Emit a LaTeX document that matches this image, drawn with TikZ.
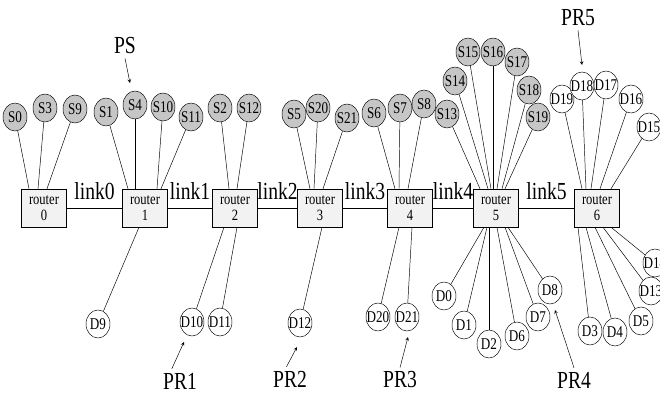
\documentclass[tikz,border=0pt]{standalone}
\usepackage{fontspec}
\setmainfont{Liberation Serif}[FakeStretch=0.8]
\usetikzlibrary{shapes.geometric,calc}

\tikzset{
  router/.style={draw, fill=gray!10, minimum width=1.35cm, minimum height=1.14cm,
    inner sep=0pt, align=center, font=\fontsize{13.4}{13.7}\selectfont},
  src/.style={ellipse, draw, fill=gray!45, minimum width=0.72cm, minimum height=0.84cm,
    inner sep=0pt, font=\fontsize{14}{14}\selectfont},
  dst/.style={src, fill=white},
  lbl/.style={font=\fontsize{20.9}{24}\selectfont}
}

\begin{document}
\begin{tikzpicture}[x=0.03cm, y=-0.03cm, >=stealth]
    \useasboundingbox (0,0) rectangle (660,394);

    % Routers
    \foreach \i/\x in {0/44,1/145,2/235,3/320,4/410,5/496,6/597}
      \node[router] (r\i) at (\x,208) {router\\\i};

    % Links
    \foreach \i/\j in {0/1,1/2,2/3,3/4,4/5,5/6}
      \draw (r\i) -- (r\j) node[lbl, midway, anchor=base, yshift=7.3pt]{link\i};

    % Sources
    \foreach \n/\x/\y/\r/\dx in {0/15/117/0/-15, 3/45/108/0/-6, 9/75/109/0/3,
        1/106/112/1/-17, 4/135/105/1/-10, 10/163/107/1/12, 11/191/117/1/16,
        2/220/108/2/-6, 12/249/108/2/2,
        5/294/114/3/-10, 20/318/108/3/-6, 21/347/118/3/3,
        6/374/113/4/-15, 7/400/108/4/-11, 8/424/104/4/-2,
        13/447/114/5/-16, 14/455/81/5/-8, 15/468/52/5/-5, 16/493/52/5/-3,
        17/517/62/5/1, 18/529/90/5/6, 19/538/117/5/9} {
      \node[src] (s\n) at (\x,\y) {\makebox[0pt]{S\n}};
      \draw (s\n) -- ($(r\r.north)+(\dx,0)$);
    }

    % Receivers above router 6
    \foreach \n/\x/\y/\dx in {19/562/99/-15, 18/582/86/-11, 17/606/85/-6,
        16/631/99/3, 15/649/127/14} {
      \node[dst] (d\n) at (\x,\y) {\makebox[0pt]{D\n}};
      \draw (d\n) -- ($(r6.north)+(\dx,0)$);
    }

    % Receivers below
    \foreach \n/\x/\y/\r/\dx in {9/98/324/1/-6, 10/192/322/2/-11, 11/220/322/2/2,
        12/300/323/3/2, 20/378/317/4/-11, 21/407/317/4/2,
        0/444/296/5/-12, 1/464/325/5/-9, 2/489/344/5/-7, 6/517/336/5/1,
        7/538/317/5/9, 8/550/290/5/12,
        3/590/331/6/-19, 4/615/332/6/-11, 5/641/321/6/-2,
        13/651/291/6/6, 14/655/263/6/14} {
      \node[dst] (d\n) at (\x,\y) {\makebox[0pt]{D\n}};
      \draw (d\n) -- ($(r\r.south)+(\dx,0)$);
    }

    % Group labels
    \node[lbl] (ps) at (125,46) {PS};
    \node[lbl] (pr1) at (180,381) {PR1};
    \node[lbl] (pr2) at (290,379) {PR2};
    \node[lbl] (pr3) at (400,380) {PR3};
    \node[lbl] (pr4) at (574,380) {PR4};
    \node[lbl] (pr5) at (578,18) {PR5};

    % Arrows to groups
    \coordinate (psend) at (130,83);
    \coordinate (pr1end) at (184,342);
    \coordinate (pr2end) at (297,347);
    \coordinate (pr3end) at (408,337);
    \coordinate (pr4end) at (555,310);
    \coordinate (pr5end) at (582,65);
    \draw[->] (ps.south) -- (psend);
    \draw[->] ([xshift=-7pt]pr1.north) -- (pr1end);
    \draw[->] ([xshift=-3pt]pr2.north) -- (pr2end);
    \draw[->] (pr3.north) -- (pr3end);
    \draw[->] (pr4.north) -- (pr4end);
    \draw[->] (pr5.south) -- (pr5end);
\end{tikzpicture}
\end{document}
